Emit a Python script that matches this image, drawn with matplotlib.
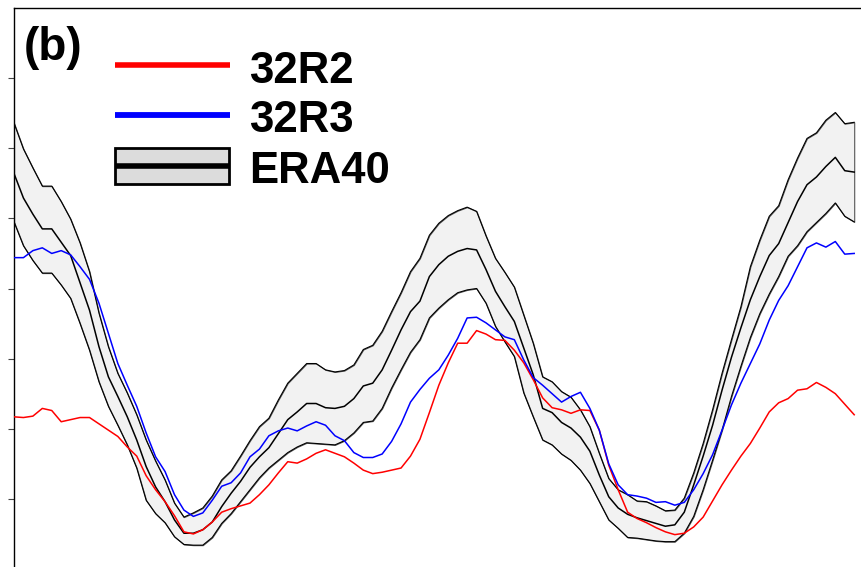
import numpy as np
import matplotlib
matplotlib.use('Agg')
from matplotlib import pyplot as plt
from matplotlib.lines import Line2D
from matplotlib.patches import Rectangle

plt.rcParams['font.family'] = ['Liberation Sans', 'DejaVu Sans']

# latitude, 2 degree grid
lat = np.arange(-89, 90, 2)

r32r2 = [2.17, 2.16, 2.18, 2.29, 2.26, 2.10, 2.13, 2.16, 2.16, 2.07,
         1.98, 1.89, 1.74, 1.61, 1.33, 1.13, 0.96, 0.76, 0.53, 0.50,
         0.56, 0.67, 0.81, 0.86, 0.90, 0.94, 1.06, 1.20, 1.37, 1.53,
         1.51, 1.57, 1.65, 1.70, 1.65, 1.60, 1.51, 1.41, 1.36, 1.38,
         1.41, 1.44, 1.61, 1.85, 2.23, 2.62, 2.94, 3.22, 3.22, 3.40,
         3.35, 3.27, 3.26, 3.12, 2.94, 2.70, 2.44, 2.30, 2.27, 2.22,
         2.27, 2.26, 1.98, 1.48, 1.13, 0.81, 0.72, 0.66, 0.59, 0.53,
         0.49, 0.51, 0.60, 0.74, 0.97, 1.20, 1.41, 1.61, 1.79, 2.01,
         2.24, 2.37, 2.43, 2.55, 2.57, 2.66, 2.59, 2.50, 2.35, 2.20]

r32r3 = [4.44, 4.44, 4.54, 4.58, 4.50, 4.54, 4.48, 4.31, 4.13, 3.79,
         3.36, 2.93, 2.62, 2.32, 1.94, 1.60, 1.39, 1.06, 0.84, 0.75,
         0.80, 0.98, 1.18, 1.23, 1.37, 1.60, 1.71, 1.90, 1.97, 2.01,
         1.97, 2.04, 2.10, 2.05, 1.90, 1.83, 1.66, 1.59, 1.59, 1.64,
         1.82, 2.07, 2.38, 2.56, 2.72, 2.84, 3.05, 3.29, 3.58, 3.59,
         3.51, 3.41, 3.31, 3.27, 2.98, 2.73, 2.62, 2.50, 2.38, 2.46,
         2.52, 2.29, 1.98, 1.50, 1.20, 1.06, 1.04, 1.01, 0.95, 0.96,
         0.91, 0.95, 1.13, 1.36, 1.63, 1.98, 2.34, 2.65, 2.93, 3.21,
         3.55, 3.83, 4.04, 4.31, 4.58, 4.65, 4.59, 4.67, 4.49, 4.50]

era_mean = [5.64, 5.29, 5.06, 4.85, 4.85, 4.66, 4.47, 4.08, 3.69, 3.17,
            2.74, 2.46, 2.17, 1.84, 1.46, 1.17, 0.96, 0.70, 0.51, 0.51,
            0.56, 0.67, 0.89, 1.08, 1.25, 1.45, 1.60, 1.73, 1.93, 2.13,
            2.24, 2.36, 2.36, 2.30, 2.29, 2.32, 2.43, 2.61, 2.65, 2.84,
            3.12, 3.41, 3.67, 3.82, 4.17, 4.34, 4.46, 4.53, 4.57, 4.55,
            4.27, 3.96, 3.74, 3.53, 3.15, 2.77, 2.29, 2.23, 2.09, 2.01,
            1.88, 1.68, 1.34, 1.03, 0.87, 0.78, 0.73, 0.69, 0.65, 0.61,
            0.63, 0.81, 1.20, 1.61, 2.05, 2.55, 3.02, 3.44, 3.84, 4.17,
            4.47, 4.64, 4.94, 5.24, 5.48, 5.59, 5.74, 5.87, 5.68, 5.66]

era_hi = [6.36, 5.99, 5.72, 5.46, 5.46, 5.24, 4.99, 4.65, 4.24, 3.65,
          3.17, 2.79, 2.51, 2.20, 1.84, 1.54, 1.27, 0.94, 0.74, 0.80,
          0.87, 1.04, 1.27, 1.40, 1.61, 1.83, 2.03, 2.15, 2.41, 2.65,
          2.79, 2.93, 2.93, 2.84, 2.81, 2.83, 2.91, 3.13, 3.19, 3.39,
          3.67, 3.94, 4.24, 4.43, 4.76, 4.93, 5.04, 5.11, 5.16, 5.10,
          4.75, 4.43, 4.23, 4.02, 3.62, 3.22, 2.74, 2.67, 2.53, 2.45,
          2.27, 2.03, 1.65, 1.29, 1.13, 1.06, 0.97, 0.96, 0.90, 0.83,
          0.84, 1.01, 1.37, 1.79, 2.27, 2.79, 3.27, 3.74, 4.31, 4.69,
          5.03, 5.18, 5.55, 5.86, 6.14, 6.22, 6.40, 6.51, 6.35, 6.37]

era_lo = [4.95, 4.61, 4.40, 4.22, 4.22, 4.05, 3.86, 3.50, 3.12, 2.67,
          2.32, 2.05, 1.77, 1.44, 0.98, 0.79, 0.66, 0.46, 0.35, 0.34,
          0.34, 0.45, 0.65, 0.79, 0.96, 1.13, 1.30, 1.44, 1.55, 1.66,
          1.74, 1.80, 1.79, 1.78, 1.77, 1.83, 1.94, 2.09, 2.11, 2.29,
          2.58, 2.84, 3.09, 3.27, 3.58, 3.72, 3.84, 3.94, 3.98, 4.00,
          3.79, 3.46, 3.24, 3.03, 2.51, 2.17, 1.84, 1.77, 1.64, 1.55,
          1.41, 1.22, 0.96, 0.70, 0.58, 0.45, 0.44, 0.42, 0.40, 0.39,
          0.39, 0.51, 0.75, 1.13, 1.55, 1.98, 2.46, 2.89, 3.30, 3.64,
          3.92, 4.17, 4.46, 4.61, 4.81, 4.94, 5.07, 5.22, 5.03, 4.95]

W, H = 862, 567
fig = plt.figure(figsize=(W / 100, H / 100), dpi=100)
# the panel is cut out of a bigger figure: axes run past the right and bottom edge
ax = fig.add_axes([14 / W, -2 / H, 900 / W, 561 / H])

ax.fill_between(lat, era_lo, era_hi, facecolor='#f2f2f2', edgecolor='#555555',
                linewidth=0.8, zorder=1)
ax.plot(lat, era_hi, color='k', lw=0.8, zorder=2)
ax.plot(lat, era_lo, color='k', lw=0.8, zorder=2)
ax.plot(lat, era_mean, color='k', lw=1.1, zorder=2)
ax.plot(lat, r32r2, color='#ff0000', lw=1.1, zorder=3)
ax.plot(lat, r32r3, color='#0000ff', lw=1.1, zorder=3)

ax.set_xlim(-89, -89 + 900 * 178 / 840.2)
ax.set_ylim(0, 8)
ax.set_yticks(range(1, 8))
ax.set_xticks([])
ax.tick_params(axis='y', direction='out', length=4.3, width=0.8,
               color='#444444', labelleft=False)
for s in ['left', 'top']:
    ax.spines[s].set_linewidth(1.0)

# legend drawn by hand, in figure pixels from the top left
def fx(x):
    return x / W

def fy(y):
    return 1 - y / H

tf = fig.transFigure
fig.add_artist(Line2D([fx(115), fx(230)], [fy(65), fy(65)], color='#ff0000',
                      lw=4, solid_capstyle='butt', transform=tf))
fig.add_artist(Line2D([fx(115), fx(230)], [fy(115.3), fy(115.3)], color='#0000ff',
                      lw=4.2, solid_capstyle='butt', transform=tf))
fig.add_artist(Rectangle((fx(115.3), fy(184.3)), fx(229.3) - fx(115.3),
                         fy(148) - fy(184.3), facecolor='#dcdcdc',
                         edgecolor='k', lw=2, transform=tf))
fig.add_artist(Line2D([fx(115.3), fx(229.3)], [fy(165.5), fy(165.5)], color='k',
                      lw=4, solid_capstyle='butt', transform=tf))

labels = ['32R2', '32R3', 'ERA40']
baselines = [83, 131.7, 183.3]
for lab, b in zip(labels, baselines):
    fig.text(fx(249.5), fy(b), lab, fontsize=31.5, fontweight='bold',
             va='baseline', ha='left')
fig.text(fx(24), fy(60), '(b)', fontsize=33, fontweight='bold',
         va='baseline', ha='left')

fig.savefig('out.png', dpi=100)
